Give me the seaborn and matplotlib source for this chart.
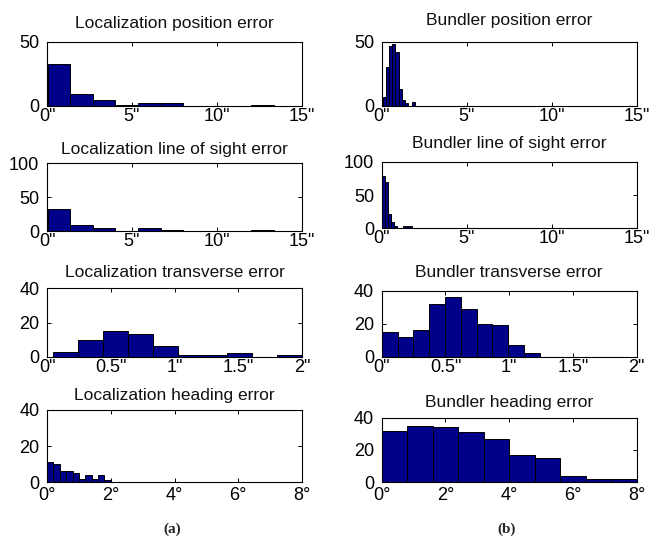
import numpy as np
import pandas as pd
import matplotlib
matplotlib.use("Agg")
import matplotlib.pyplot as plt
import seaborn as sns

# histogram counts (10 bins each, MATLAB hist style)
loc_pos_counts = [33, 9, 5, 1, 2, 2, 0, 0, 0, 1]
loc_pos_range = (0.03, 13.35)
bun_pos_counts = [7, 30, 47, 48, 42, 13, 5, 2, 0, 3]
bun_pos_range = (0.05, 1.95)

loc_los_counts = [32, 9, 4, 0, 4, 2, 0, 0, 0, 2]
loc_los_range = (0.03, 13.35)
bun_los_counts = [79, 70, 22, 10, 4, 1, 0, 3, 3, 3]
bun_los_range = (0.0, 1.8)

loc_trans_counts = [3, 10, 15, 13, 6, 1, 1, 2, 0, 1]
loc_trans_range = (0.05, 2.0)
bun_trans_counts = [15, 12, 16, 32, 36, 29, 20, 19, 7, 2]
bun_trans_range = (0.0, 1.24)

loc_head_counts = [11, 10, 6, 6, 5, 2, 4, 2, 4, 1]
loc_head_range = (0.0, 2.0)
bun_head_counts = [32, 35, 34, 31, 27, 17, 15, 4, 2, 2]
bun_head_range = (0.0, 8.0)

titles_left = ["Localization position error", "Localization line of sight error",
               "Localization transverse error", "Localization heading error"]
titles_right = ["Bundler position error", "Bundler line of sight error",
                "Bundler transverse error", "Bundler heading error"]

arcsec_ticks = [0, 5, 10, 15]
arcsec_labels = ['0"', '5"', '10"', '15"']
trans_ticks = [0, 0.5, 1, 1.5, 2]
trans_labels = ['0"', '0.5"', '1"', '1.5"', '2"']
deg_ticks = [0, 2, 4, 6, 8]
deg_labels = ["0°", "2°", "4°", "6°", "8°"]

sns.set_style("ticks")
plt.rcParams["font.family"] = ["Liberation Sans", "DejaVu Sans"]

W, H = 663, 537
fig = plt.figure(figsize=(W / 100, H / 100), dpi=100)
fig.patch.set_facecolor("white")


def px_axes(x0, x1, y0, y1):
    # pixel box (top-left origin) -> figure fraction
    return fig.add_axes([x0 / W, 1 - y1 / H, (x1 - x0) / W, (y1 - y0) / H])


def draw_hist(ax, counts, rng, title, xticks, xlabels, xlim, yticks, pad, xpad):
    nb = len(counts)
    step = (rng[1] - rng[0]) / nb
    centers = [rng[0] + step * (k + 0.5) for k in range(nb)]
    df = pd.DataFrame({"err": centers, "n": counts})
    sns.histplot(data=df, x="err", weights="n", bins=nb, binrange=rng, ax=ax,
                 color="#000088", edgecolor="black", linewidth=0.7, alpha=1)
    ax.set_xlim(*xlim)
    ax.set_ylim(0, yticks[-1])
    ax.set_xticks(xticks)
    ax.set_xticklabels(xlabels)
    ax.set_yticks(yticks)
    ax.set_xlabel("")
    ax.set_ylabel("")
    ax.set_title(title, fontsize=12.5, pad=pad, color="#111111")
    ax.tick_params(direction="in", top=True, right=True, length=3, width=0.7,
                   labelsize=13, colors="black")
    ax.tick_params(axis="x", pad=xpad)
    ax.tick_params(axis="y", pad=5.5)
    for s in ax.spines.values():
        s.set_visible(True)
        s.set_color("black")
        s.set_linewidth(0.8)


left_boxes = [(47, 302, 41.7, 106), (47, 302, 163.3, 231),
              (47, 302, 288.3, 356.7), (47, 302, 410, 482.3)]
right_boxes = [(381.7, 636.7, 41.7, 106), (381.7, 636.7, 161.7, 228.3),
               (381.7, 636.7, 290.7, 356.7), (381.7, 636.7, 417.7, 482.3)]

left_data = [(loc_pos_counts, loc_pos_range), (loc_los_counts, loc_los_range),
             (loc_trans_counts, loc_trans_range), (loc_head_counts, loc_head_range)]
right_data = [(bun_pos_counts, bun_pos_range), (bun_los_counts, bun_los_range),
              (bun_trans_counts, bun_trans_range), (bun_head_counts, bun_head_range)]

row_x = [(arcsec_ticks, arcsec_labels, (0, 15)),
         (arcsec_ticks, arcsec_labels, (0, 15)),
         (trans_ticks, trans_labels, (0, 2)),
         (deg_ticks, deg_labels, (0, 8))]
row_y = [[0, 50], [0, 50, 100], [0, 20, 40], [0, 20, 40]]
row_xpad = [1.5, 1.5, 2, 3.5]
pads_left = [10, 7, 8, 7]
pads_right = [12, 10, 10, 8]

for i in range(4):
    ax = px_axes(*left_boxes[i])
    draw_hist(ax, left_data[i][0], left_data[i][1], titles_left[i],
              row_x[i][0], row_x[i][1], row_x[i][2], row_y[i], pads_left[i],
              row_xpad[i])
    ax = px_axes(*right_boxes[i])
    draw_hist(ax, right_data[i][0], right_data[i][1], titles_right[i],
              row_x[i][0], row_x[i][1], row_x[i][2], row_y[i], pads_right[i],
              row_xpad[i])

fig.text(172 / W, 1 - 529 / H, "(a)", ha="center", va="center",
         fontsize=11, fontweight="bold", family="Liberation Serif")
fig.text(507 / W, 1 - 529 / H, "(b)", ha="center", va="center",
         fontsize=11, fontweight="bold", family="Liberation Serif")

fig.savefig("out.png", dpi=100, facecolor="white")
